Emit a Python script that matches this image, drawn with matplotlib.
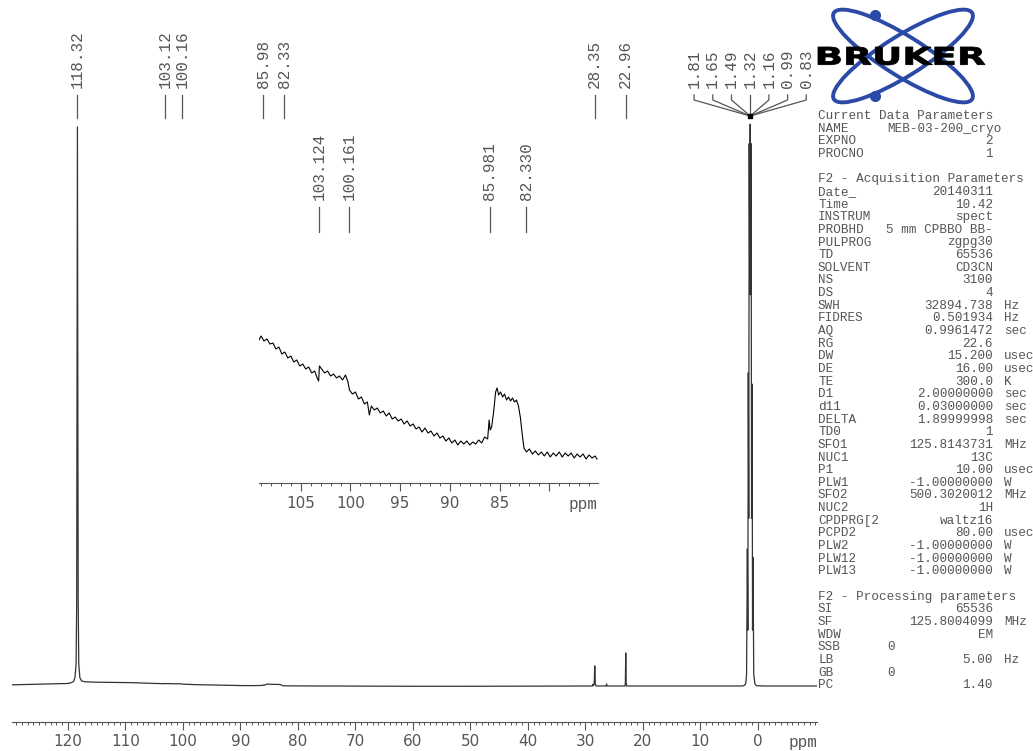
import matplotlib
matplotlib.use("Agg")
import matplotlib.pyplot as plt
import matplotlib.transforms as mtransforms
from matplotlib.patches import Ellipse, PathPatch
from matplotlib.textpath import TextPath
from matplotlib.font_manager import FontProperties
from matplotlib.ticker import FixedLocator, MultipleLocator
import numpy as np

plt.rcParams["font.family"] = ["DejaVu Sans"]

# 13C spectrum: ppm and intensity (118.32 peak = 100)
left_ppm = [130.0, 126.0, 122.0, 120.0, 119.5, 119.0, 118.75, 118.55, 118.45, 118.38,
            118.32, 118.26, 118.19, 118.09, 117.9, 117.6, 117.0, 115.0, 112.0, 110.0]
left_int = [0.20, 0.30, 0.40, 0.45, 0.55, 0.80, 1.5, 4.0, 15.0, 60.0,
            100.0, 60.0, 15.0, 4.0, 1.5, 0.9, 0.75, 0.68, 0.64, 0.62]

# region shown in the inset (109 - 75 ppm)
inset_ppm = [109.2, 109.0, 108.7, 108.4, 108.1, 107.8, 107.5, 107.2, 106.9, 106.6,
             106.3, 106.0, 105.7, 105.4, 105.1, 104.8, 104.5, 104.2, 103.9, 103.6,
             103.35, 103.2, 103.12, 102.9, 102.6, 102.3, 102.0, 101.7, 101.4, 101.1,
             100.8, 100.5, 100.25, 100.1, 99.8, 99.5, 99.2, 98.9, 98.6, 98.3,
             98.1, 97.9, 97.6, 97.3, 97.0, 96.7, 96.4, 96.1, 95.8, 95.5,
             95.2, 94.9, 94.6, 94.3, 94.0, 93.7, 93.4, 93.1, 92.8, 92.5,
             92.2, 91.9, 91.6, 91.3, 91.0, 90.7, 90.4, 90.1, 89.8, 89.5,
             89.2, 88.9, 88.6, 88.3, 88.0, 87.7, 87.4, 87.1, 86.8, 86.5,
             86.2, 86.05, 85.95, 85.8, 85.6, 85.4, 85.25, 85.1, 84.9, 84.7,
             84.5, 84.3, 84.1, 83.9, 83.7, 83.5, 83.3, 83.1, 82.9, 82.75,
             82.55, 82.3, 82.0, 81.7, 81.4, 81.1, 80.8, 80.5, 80.2, 79.9,
             79.6, 79.3, 79.0, 78.7, 78.4, 78.1, 77.8, 77.5, 77.2, 76.9,
             76.6, 76.3, 76.0, 75.7, 75.4, 75.2]
inset_int = [0.585, 0.605, 0.580, 0.590, 0.565, 0.570, 0.540, 0.550, 0.515, 0.525,
             0.495, 0.505, 0.475, 0.485, 0.455, 0.465, 0.440, 0.450, 0.420, 0.430,
             0.395, 0.380, 0.455, 0.440, 0.420, 0.430, 0.405, 0.415, 0.395, 0.405,
             0.385, 0.410, 0.375, 0.335, 0.315, 0.325, 0.290, 0.300, 0.265, 0.275,
             0.210, 0.255, 0.235, 0.245, 0.220, 0.230, 0.205, 0.220, 0.190, 0.200,
             0.180, 0.190, 0.165, 0.180, 0.155, 0.165, 0.140, 0.150, 0.125, 0.145,
             0.120, 0.130, 0.105, 0.120, 0.095, 0.105, 0.080, 0.095, 0.070, 0.085,
             0.060, 0.080, 0.065, 0.080, 0.060, 0.075, 0.065, 0.085, 0.070, 0.100,
             0.090, 0.185, 0.135, 0.150, 0.225, 0.325, 0.345, 0.310, 0.325, 0.300,
             0.315, 0.285, 0.300, 0.280, 0.295, 0.275, 0.285, 0.255, 0.195, 0.125,
             0.045, 0.025, 0.040, 0.015, 0.030, 0.010, 0.025, 0.005, 0.025, 0.000,
             0.020, 0.005, 0.025, 0.000, 0.020, 0.005, 0.020, -0.005, 0.015, 0.000,
             0.015, -0.010, 0.010, -0.005, 0.005, -0.010]

mid_ppm = [74.0, 70.0, 60.0, 50.0, 40.0, 30.0, 28.8, 28.7, 28.6, 28.45, 28.35, 28.25,
           28.1, 26.4, 26.3, 26.2, 23.1, 23.03, 22.96, 22.89, 22.8, 15.0, 5.0, 2.8]
mid_int = [0.0, -0.02, -0.05, -0.05, -0.03, 0.0, 0.0, 0.30, 0.05, 0.30, 3.6, 0.30,
           0.0, 0.0, 0.36, 0.0, 0.0, 0.5, 5.9, 0.5, 0.0, 0.0, 0.0, 0.0]

# CD3CN methyl septet
solv_ppm = [2.4, 2.1, 1.95, 1.81, 1.73, 1.65, 1.57, 1.49, 1.40, 1.32, 1.24,
            1.16, 1.08, 0.99, 0.91, 0.83, 0.70, 0.5, 0.25, -1.0, -11.0]
solv_int = [0.05, 0.4, 2.0, 24.5, 10.0, 56.0, 30.0, 97.0, 70.0, 100.5, 70.0,
            97.0, 30.0, 54.0, 10.0, 23.0, 2.0, 0.4, 0.05, 0.0, 0.0]

top_labels = ["118.32", "103.12", "100.16", "85.98", "82.33", "28.35", "22.96"]
cluster_labels = ["1.81", "1.65", "1.49", "1.32", "1.16", "0.99", "0.83"]
inset_labels = ["103.124", "100.161", "85.981", "82.330"]

main_ticks = list(range(0, 121, 10))
inset_ticks = [105, 100, 95, 90, 85, 80]
inset_ticklabels = ["105", "100", "95", "90", "85", ""]

current_params = [("NAME", "MEB-03-200_cryo", ""), ("EXPNO", "2", ""), ("PROCNO", "1", "")]
acq_params = [
    ("Date_", "20140311", ""), ("Time", "10.42", ""), ("INSTRUM", "spect", ""),
    ("PROBHD", "5 mm CPBBO BB-", ""), ("PULPROG", "zgpg30", ""), ("TD", "65536", ""),
    ("SOLVENT", "CD3CN", ""), ("NS", "3100", ""), ("DS", "4", ""),
    ("SWH", "32894.738", "Hz"), ("FIDRES", "0.501934", "Hz"), ("AQ", "0.9961472", "sec"),
    ("RG", "22.6", ""), ("DW", "15.200", "usec"), ("DE", "16.00", "usec"),
    ("TE", "300.0", "K"), ("D1", "2.00000000", "sec"), ("d11", "0.03000000", "sec"),
    ("DELTA", "1.89999998", "sec"), ("TD0", "1", ""), ("SFO1", "125.8143731", "MHz"),
    ("NUC1", "13C", ""), ("P1", "10.00", "usec"), ("PLW1", "-1.00000000", "W"),
    ("SFO2", "500.3020012", "MHz"), ("NUC2", "1H", ""), ("CPDPRG[2", "waltz16", ""),
    ("PCPD2", "80.00", "usec"), ("PLW2", "-1.00000000", "W"),
    ("PLW12", "-1.00000000", "W"), ("PLW13", "-1.00000000", "W")]
proc_params = [("SI", "65536", ""), ("SF", "125.8004099", "MHz"), ("WDW", "EM", ""),
               ("SSB", "0", ""), ("LB", "5.00", "Hz"), ("GB", "0", ""), ("PC", "1.40", "")]

W, H = 1033, 751
fig = plt.figure(figsize=(W / 100, H / 100), dpi=100)
fig.patch.set_facecolor("white")

ink = "#333333"
grey = "#555555"
mono = "Liberation Mono"

# main spectrum
ax = fig.add_axes([12 / W, (H - 722) / H, 805 / W, 722 / H])
ppm = np.concatenate([left_ppm, inset_ppm, mid_ppm, solv_ppm])
inten = np.concatenate([left_int, inset_int, mid_int, solv_int])
ax.plot(ppm, inten, color=ink, lw=0.9)
ax.set_xlim(129.7, -10.3)
ax.set_ylim(-6.44, 122.7)
for s in ["top", "left", "right"]:
    ax.spines[s].set_visible(False)
ax.spines["bottom"].set_color(grey)
ax.spines["bottom"].set_linewidth(0.8)
ax.set_yticks([])
ax.xaxis.set_major_locator(FixedLocator(main_ticks))
ax.xaxis.set_minor_locator(MultipleLocator(1))
ax.tick_params(axis="x", which="major", length=5.5, width=0.8, color=grey,
               labelsize=11, labelcolor=grey, pad=3.5)
ax.tick_params(axis="x", which="minor", length=2.4, width=0.7, color=grey)
ax.patch.set_alpha(0)

# inset
ins = fig.add_axes([259 / W, (H - 483) / H, 339 / W, 153 / H])
ins.plot(inset_ppm, inset_int, color="black", lw=0.8)
ins.set_xlim(109.2, 75.1)
ins.set_ylim(-0.13, 0.635)
for s in ["top", "left", "right"]:
    ins.spines[s].set_visible(False)
ins.spines["bottom"].set_color(grey)
ins.set_yticks([])
ins.set_xticks(inset_ticks)
ins.set_xticklabels(inset_ticklabels)
ins.xaxis.set_minor_locator(MultipleLocator(1))
ins.tick_params(axis="x", which="major", length=5.8, width=0.8, color=grey,
                labelsize=11, labelcolor=grey, pad=3.5)
ins.tick_params(axis="x", which="minor", length=2.4, width=0.7, color=grey)
ins.patch.set_alpha(0)

# overlay in pixel coordinates (y down)
ov = fig.add_axes([0, 0, 1, 1])
ov.set_xlim(0, W)
ov.set_ylim(H, 0)
ov.axis("off")

top_tr = mtransforms.blended_transform_factory(ax.transData, ov.transData)
ins_tr = mtransforms.blended_transform_factory(ins.transData, ov.transData)

for lab in top_labels:
    x = float(lab)
    ov.plot([x, x], [95, 118], color=grey, lw=0.9, transform=top_tr)
    ov.text(x, 88, lab, rotation=90, ha="center", va="bottom", family=mono,
            fontsize=11.5, color=grey, transform=top_tr)

for lab in inset_labels:
    x = float(lab)
    ov.plot([x, x], [207, 232], color=grey, lw=0.9, transform=ins_tr)
    ov.text(x, 200, lab, rotation=90, ha="center", va="bottom", family=mono,
            fontsize=11.5, color=grey, transform=ins_tr)

xc = ax.transData.transform((1.32, 0))[0]
for i, lab in enumerate(cluster_labels):
    xi = xc + (i - 3) * 18.7
    ov.plot([xi, xi, xc], [95, 100, 116], color=grey, lw=0.9)
    ov.text(xi, 88, lab, rotation=90, ha="center", va="bottom", family=mono,
            fontsize=11.5, color=grey)
ov.plot([xc], [116], marker="s", ms=3.5, color="black")

ov.text(817, 743, "ppm", ha="right", va="center", family=mono, fontsize=11.5, color=grey)
ov.text(597, 504, "ppm", ha="right", va="center", family=mono, fontsize=11.5, color=grey)

# logo
blue = "#2b4aa8"
for ang in (32, -32):
    ov.add_patch(Ellipse((903, 56), 163, 40, angle=ang, fill=False, ec=blue, lw=2.8))
ov.plot([875, 875], [15, 96], "o", ms=7, color=blue, ls="none")
tp = TextPath((0, 0), "BRUKER", prop=FontProperties(family="DejaVu Sans", weight="bold"))
bb = tp.get_extents()
tt = (mtransforms.Affine2D().translate(-bb.x0, -bb.y0)
      .scale(167 / bb.width, -18 / bb.height).translate(818, 65))
ov.add_patch(PathPatch(tt.transform_path(tp), fc="black", ec="black", lw=0.6))

# parameter listing
def row(n, key, val="", unit="", left_val=False):
    y = 116 + n * 12.65
    ov.text(818, y, key, ha="left", va="center", family=mono, fontsize=9.1, color=grey)
    if val:
        if left_val:
            ov.text(887, y, val, ha="left", va="center", family=mono, fontsize=9.1, color=grey)
        else:
            ov.text(993, y, val, ha="right", va="center", family=mono, fontsize=9.1, color=grey)
    if unit:
        ov.text(1004, y, unit, ha="left", va="center", family=mono, fontsize=9.1, color=grey)

row(0, "Current Data Parameters")
for i, (k, v, u) in enumerate(current_params):
    row(1 + i, k, v, u, left_val=(k == "NAME"))
row(5, "F2 - Acquisition Parameters")
for i, (k, v, u) in enumerate(acq_params):
    row(6 + i, k, v, u)
row(38, "F2 - Processing parameters")
for i, (k, v, u) in enumerate(proc_params):
    row(39 + i, k, v, u, left_val=(k in ("SSB", "GB")))

fig.savefig("out.png", dpi=100)
